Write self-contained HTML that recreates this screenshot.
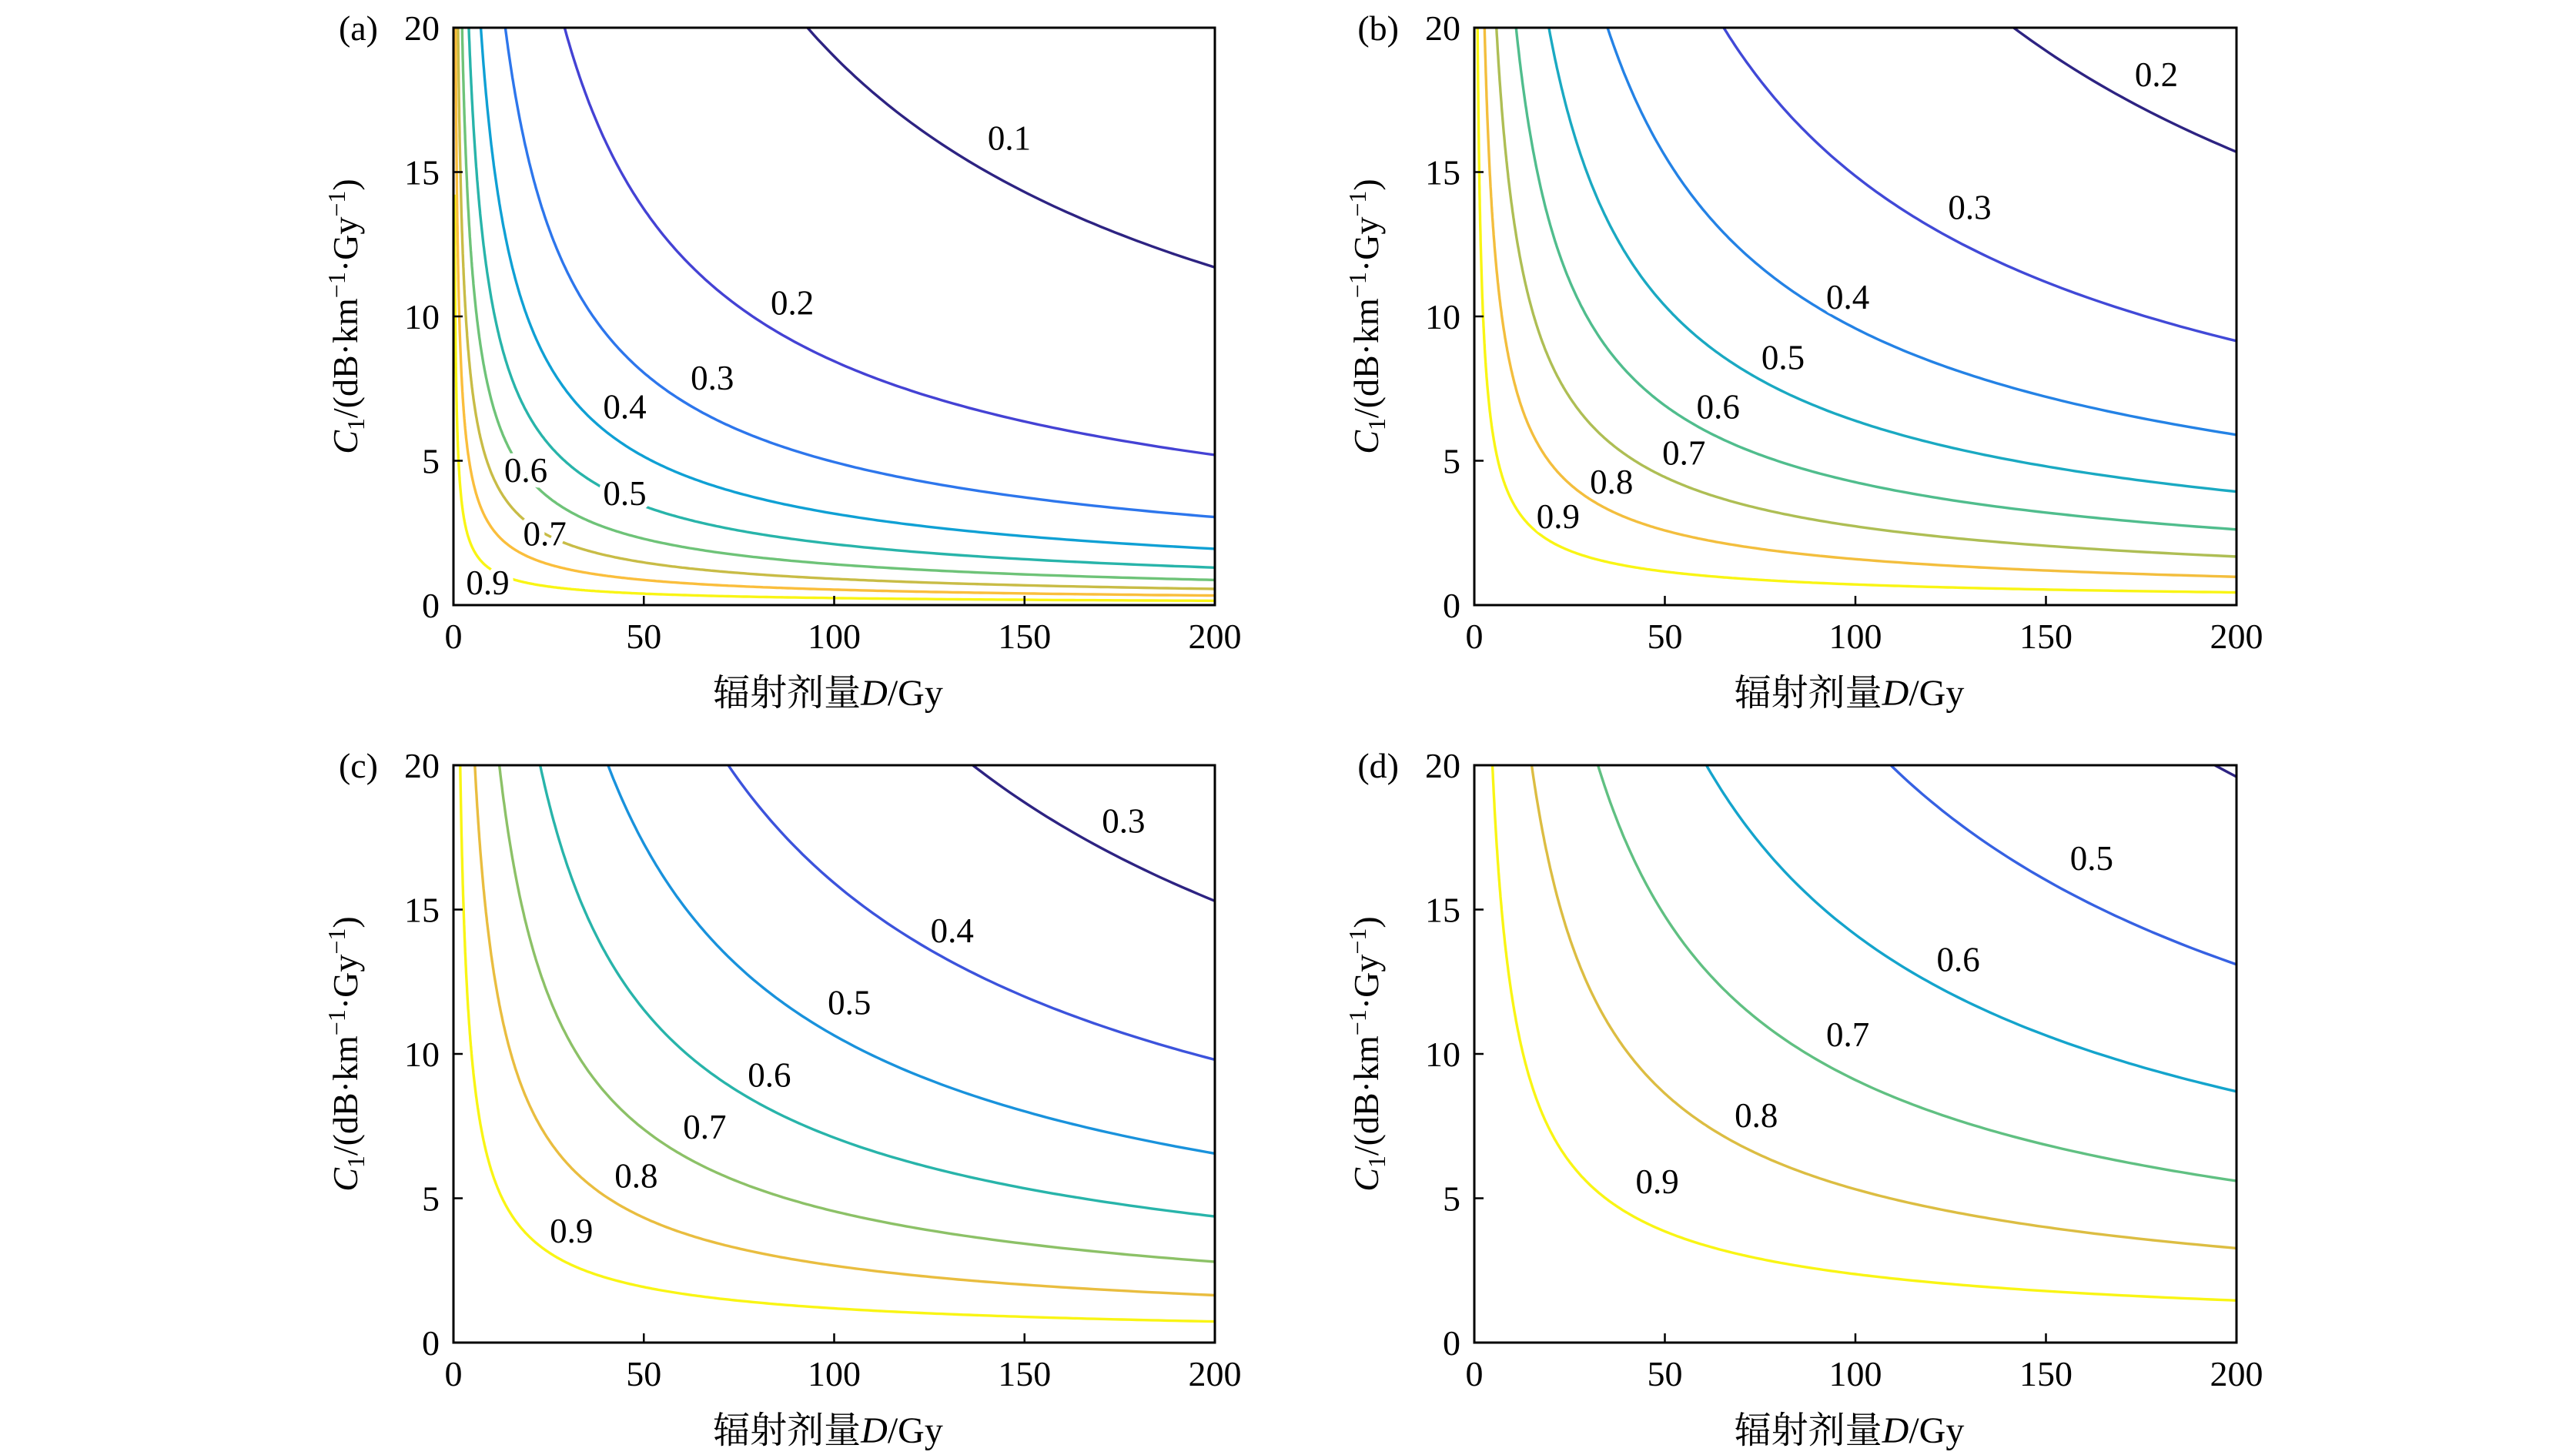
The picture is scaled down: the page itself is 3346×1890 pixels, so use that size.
<!DOCTYPE html>
<html><head><meta charset="utf-8">
<style>
html,body{margin:0;padding:0;background:#fff;}
svg{display:block;font-family:"Liberation Serif","Noto Serif CJK SC",serif;}
</style></head>
<body>
<svg id="fig" width="3346" height="1890" viewBox="0 0 3346 1890" xmlns="http://www.w3.org/2000/svg"></svg>
<script>
// ---- data ----
const xTicks = [0, 50, 100, 150, 200];
const yTicks = [0, 5, 10, 15, 20];
const panelLetters = ["(a)", "(b)", "(c)", "(d)"];
// contour levels per panel
const levelsA = [0.1, 0.2, 0.3, 0.4, 0.5, 0.6, 0.7, 0.8, 0.9];
const levelsB = [0.2, 0.3, 0.4, 0.5, 0.6, 0.7, 0.8, 0.9];
const levelsC = [0.3, 0.4, 0.5, 0.6, 0.7, 0.8, 0.9];
const levelsD = [0.4, 0.5, 0.6, 0.7, 0.8, 0.9];
// C1 value of each contour at D = 200 Gy
const c200A = [11.7, 5.2, 3.05, 1.95, 1.3, 0.87, 0.56, 0.33, 0.15];
const c200B = [15.7, 9.15, 5.9, 3.93, 2.62, 1.68, 0.98, 0.44];
const c200C = [15.3, 9.8, 6.55, 4.37, 2.8, 1.64, 0.73];
const c200D = [19.6, 13.1, 8.7, 5.6, 3.27, 1.46];
// label positions (D, C1)
const labDA = [146, 89, 68, 45, 45, 19, 24, null, 9];
const labCA = [16.2, 10.5, 7.9, 6.9, 3.9, 4.7, 2.5, null, 0.8];
const labDB = [179, 130, 98, 81, 64, 55, 36, 22];
const labCB = [18.4, 13.8, 10.7, 8.6, 6.9, 5.3, 4.3, 3.1];
const labDC = [176, 131, 104, 83, 66, 48, 31];
const labCC = [18.1, 14.3, 11.8, 9.3, 7.5, 5.8, 3.9];
const labDD = [null, 162, 127, 98, 74, 48];
const labCD = [null, 16.8, 13.3, 10.7, 7.9, 5.6];
const exponent = 0.7; // C1 ∝ D^-0.7 along each contour

const NS = "http://www.w3.org/2000/svg";
const svg = document.getElementById("fig");
function mk(tag, attrs, parent) {
  const e = document.createElementNS(NS, tag);
  for (const k in attrs) e.setAttribute(k, attrs[k]);
  (parent || svg).appendChild(e);
  return e;
}
const parula = [[45,35,130],[68,66,212],[45,118,236],[15,160,212],[40,180,170],[110,195,120],[200,188,70],[250,190,60],[249,245,20]];
function cmap(t) {
  t = Math.max(0, Math.min(1, t)) * (parula.length - 1);
  const i = Math.min(parula.length - 2, Math.floor(t)), f = t - i;
  const c = parula[i].map((v, k) => Math.round(v + (parula[i + 1][k] - v) * f));
  return `rgb(${c[0]},${c[1]},${c[2]})`;
}

const panels = [
  {L:589, R:1578, T:36, B:786, lv:levelsA, c:c200A, ld:labDA, lc:labCA},
  {L:1915, R:2905, T:36, B:786, lv:levelsB, c:c200B, ld:labDB, lc:labCB},
  {L:589, R:1578, T:994, B:1744, lv:levelsC, c:c200C, ld:labDC, lc:labCC},
  {L:1915, R:2905, T:994, B:1744, lv:levelsD, c:c200D, ld:labDD, lc:labCD}
];

panels.forEach((p, pi) => {
  const g = mk("g", {});
  
  
  const xs = d => p.L + (d / 200) * (p.R - p.L);
  const ys = c => p.B - (c / 20) * (p.B - p.T);
  const clipId = "clip" + pi;
  const cp = mk("clipPath", {id: clipId}, g);
  mk("rect", {x: p.L, y: p.T, width: p.R - p.L, height: p.B - p.T}, cp);
  const curves = mk("g", {"clip-path": `url(#${clipId})`}, g);
  const lmin = p.lv[0], lmax = p.lv[p.lv.length - 1];
  p.lv.forEach((lev, i) => {
    let d = "";
    for (let k = 0; k <= 600; k++) {
      const D = 0.3 * Math.pow(200 / 0.3, k / 600);
      const C = p.c[i] * Math.pow(200 / D, exponent);
      const yy = Math.max(p.T - 50, ys(C));
      d += (k ? "L" : "M") + xs(D).toFixed(1) + "," + yy.toFixed(1);
    }
    const path = mk("path", {d: d, fill: "none", stroke: cmap((lev - lmin) / (lmax - lmin)), "stroke-width": 3.4}, curves);
    
    
  });
  p.lv.forEach((lev, i) => {
    if (p.ld[i] == null) return;
    const t = mk("text", {x: xs(p.ld[i]), y: ys(p.lc[i]) + 16, "text-anchor": "middle", "font-size": 45,
      fill: "#000", stroke: "#fff", "stroke-width": 14, "paint-order": "stroke", "stroke-linejoin": "round"}, g);
    t.textContent = lev.toFixed(1);
    
    
  });
  const frame = mk("rect", {x: p.L, y: p.T, width: p.R - p.L, height: p.B - p.T, fill: "none", stroke: "#000", "stroke-width": 3}, g);
  
  
  xTicks.forEach(v => {
    mk("line", {x1: xs(v), x2: xs(v), y1: p.B, y2: p.B - 12, stroke: "#000", "stroke-width": 2.5}, g);
    const t = mk("text", {x: xs(v), y: p.B + 56, "text-anchor": "middle", "font-size": 46}, g);
    t.textContent = v;
    
    
  });
  yTicks.forEach(v => {
    mk("line", {x1: p.L, x2: p.L + 12, y1: ys(v), y2: ys(v), stroke: "#000", "stroke-width": 2.5}, g);
    const t = mk("text", {x: p.L - 18, y: ys(v) + 16, "text-anchor": "end", "font-size": 46}, g);
    t.textContent = v;
    
    
  });
  const pl = mk("text", {x: p.L - 98, y: p.T + 16, "text-anchor": "end", "font-size": 46}, g);
  pl.textContent = panelLetters[pi];
  
  
  const xl = mk("text", {x: (p.L + p.R) / 2 - 8, y: p.B + 130, "text-anchor": "middle", "font-size": 48}, g);
  xl.innerHTML = '辐射剂量<tspan font-style="italic">D</tspan>/Gy';
  
  
  const cy = (p.T + p.B) / 2, cx = p.L - 125;
  const yl = mk("text", {x: cx, y: cy, "text-anchor": "middle", "font-size": 46, transform: `rotate(-90 ${cx} ${cy})`}, g);
  yl.innerHTML = '<tspan font-style="italic">C</tspan><tspan font-size="32" dy="9">1</tspan><tspan dy="-9">/(dB·km</tspan><tspan font-size="32" dy="-16">−1</tspan><tspan dy="16">·Gy</tspan><tspan font-size="32" dy="-16">−1</tspan><tspan dy="16">)</tspan>';
  
  
});
</script>
</body></html>
